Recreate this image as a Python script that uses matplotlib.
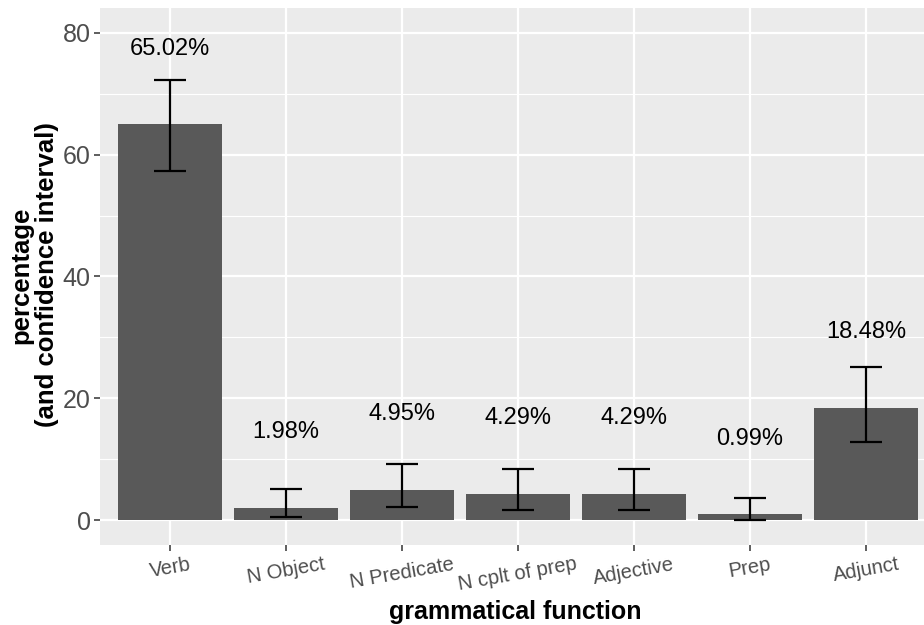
import numpy as np
import matplotlib
matplotlib.use('Agg')
import matplotlib.pyplot as plt
from matplotlib.ticker import MultipleLocator

plt.rcParams['font.family'] = ['Liberation Sans', 'DejaVu Sans']

# data
functions = ['Verb', 'N Object', 'N Predicate', 'N cplt of prep', 'Adjective', 'Prep', 'Adjunct']
percent = [65.02, 1.98, 4.95, 4.29, 4.29, 0.99, 18.48]
ci_low = [57.3, 0.5, 2.1, 1.6, 1.6, 0.0, 12.8]
ci_high = [72.3, 5.1, 9.2, 8.4, 8.4, 3.6, 25.1]

fig = plt.figure(figsize=(9.24, 6.25), dpi=100)
W, H = 924, 625
# panel placement in pixels (panel spills a bit past the right edge like the original)
px_left, px_right, px_top, px_bottom = 100.4, 935.6, 8, 545
ax = fig.add_axes([px_left / W, 1 - px_bottom / H,
                   (px_right - px_left) / W, (px_bottom - px_top) / H])

ax.set_facecolor('#EBEBEB')
x = np.arange(1, len(functions) + 1)

ax.bar(x, percent, width=0.9, color='#595959', zorder=2)
pct = np.array(percent)
err = np.array([pct - np.array(ci_low), np.array(ci_high) - pct])
ax.errorbar(x, pct, yerr=err, fmt='none', ecolor='black', elinewidth=1.6,
            capsize=11.5, capthick=1.6, zorder=3)

for xi, p in zip(x, percent):
    ax.text(xi, p + 12.4, '%.2f%%' % p, ha='center', va='center',
            fontsize=17, color='black', zorder=4)

ax.set_xlim(0.4, 7.6)
ax.set_ylim(-4.1, 84.1)
ax.set_xticks(x)
ax.set_xticklabels(functions, rotation=10, ha='center')
ax.yaxis.set_major_locator(MultipleLocator(20))
ax.yaxis.set_minor_locator(MultipleLocator(10))

ax.grid(which='major', color='white', linewidth=1.6, zorder=0)
ax.grid(which='minor', axis='y', color='white', linewidth=0.8, zorder=0)
ax.set_axisbelow(True)
for s in ax.spines.values():
    s.set_visible(False)

ax.tick_params(axis='y', which='major', length=4, width=1.1, color='#333333',
               labelsize=18, labelcolor='#4D4D4D', pad=3)
ax.tick_params(axis='x', which='major', length=4, width=1.1, color='#333333',
               labelsize=14.5, labelcolor='#4D4D4D', pad=3)
ax.tick_params(which='minor', length=0)

# axis titles placed by hand, as in the original layout
fig.text(515 / W, 1 - 619 / H, 'grammatical function', fontsize=18,
         fontweight='bold', ha='center', va='baseline')
fig.text(34 / W, 1 - 275 / H, 'percentage\n(and confidence interval)', fontsize=18.5,
         fontweight='bold', ha='center', va='center', rotation=90,
         linespacing=1.12, multialignment='center')

fig.savefig('out.png', dpi=100)
